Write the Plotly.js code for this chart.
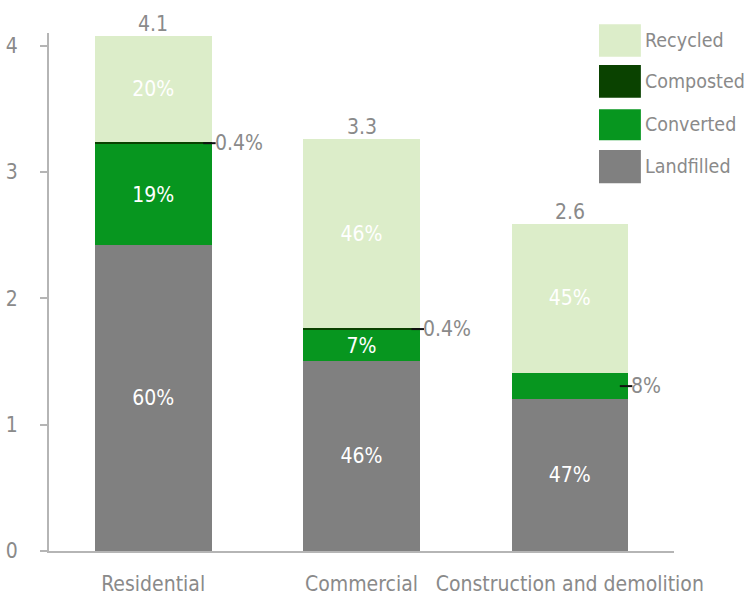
<!DOCTYPE html>
<html>
<head>
<meta charset="utf-8">
<script src="https://cdn.plot.ly/plotly-3.0.1.min.js"></script>
<style>html,body{margin:0;padding:0;background:#fff;}#chart{width:752px;height:596px;}</style>
</head>
<body>
<div id="chart"></div>
<script>
const categories = ["Residential", "Commercial", "Construction and demolition"];
const landfilled = [2.42, 1.50, 1.20];
const converted  = [0.80, 0.25, 0.21];
const composted  = [0.016, 0.013, 0];
const recycled   = [0.84, 1.50, 1.18];
const landfilledLabels = ["60%", "46%", "47%"];
const convertedLabels  = ["19%", "7%", ""];
const recycledLabels   = ["20%", "46%", "45%"];
const outsideLabels = [
  {cat: 0, series: "composted", text: "0.4%"},
  {cat: 1, series: "composted", text: "0.4%"},
  {cat: 2, series: "converted", text: "8%"}
];
const seriesNames  = ["Recycled", "Composted", "Converted", "Landfilled"];
const seriesColors = {Recycled: "#dcedc9", Composted: "#0a4200", Converted: "#07961f", Landfilled: "#808080"};

const FONT = "'DejaVu Sans Condensed', 'Liberation Sans Narrow', sans-serif";
const GREY = "#8a8a8a";
const BARW = 0.56;

function barTrace(name, y, text) {
  return {
    type: "bar", name: name, x: categories, y: y, text: text,
    textposition: "inside", insidetextanchor: "middle",
    textfont: {color: "#ffffff", size: 21, family: FONT},
    marker: {color: seriesColors[name], line: {width: 0}},
    width: BARW, hoverinfo: "skip", showlegend: false
  };
}
const traces = [
  barTrace("Landfilled", landfilled, landfilledLabels),
  barTrace("Converted", converted, convertedLabels),
  barTrace("Composted", composted, ["", "", ""]),
  barTrace("Recycled", recycled, recycledLabels)
];

const totals = categories.map((c, i) => landfilled[i] + converted[i] + composted[i] + recycled[i]);
const annotations = [];
const shapes = [];
totals.forEach((t, i) => {
  annotations.push({x: i, y: t, xref: "x", yref: "y", text: t.toFixed(1), showarrow: false,
    yanchor: "bottom", yshift: -2, font: {size: 21, color: GREY, family: FONT}});
});
outsideLabels.forEach(o => {
  const i = o.cat;
  let yv;
  if (o.series === "composted") yv = landfilled[i] + converted[i] + composted[i] / 2;
  else yv = landfilled[i] + converted[i] / 2;
  annotations.push({x: i + BARW / 2, y: yv, xref: "x", yref: "y", text: o.text, showarrow: false,
    xanchor: "left", xshift: 1, font: {size: 21, color: GREY, family: FONT}});
  shapes.push({type: "line", xref: "x", yref: "y", x0: i + BARW / 2 - 0.04, x1: i + BARW / 2 + 0.02,
    y0: yv, y1: yv, line: {color: "#111", width: 2}});
});

// custom legend (large swatches)
const legTop = [1.017, 0.938, 0.853, 0.774];
const legBot = [0.954, 0.875, 0.793, 0.710];
seriesNames.forEach((n, k) => {
  shapes.push({type: "rect", xref: "paper", yref: "paper", x0: 0.88, x1: 0.947, y0: legBot[k], y1: legTop[k],
    fillcolor: seriesColors[n], line: {width: 0}});
  annotations.push({xref: "paper", yref: "paper", x: 0.95, y: (legTop[k] + legBot[k]) / 2, text: n,
    showarrow: false, xanchor: "left", yanchor: "middle", font: {size: 19.5, color: GREY, family: FONT}});
});

const layout = {
  width: 752, height: 596,
  margin: {l: 49, r: 78, t: 33, b: 45},
  barmode: "stack",
  paper_bgcolor: "#ffffff", plot_bgcolor: "#ffffff",
  font: {family: FONT, color: GREY, size: 20},
  showlegend: false,
  xaxis: {
    type: "category", range: [-0.5, 2.5], showline: true, linecolor: "#b5b5b5", linewidth: 2,
    ticks: "", showgrid: false, zeroline: false, ticklabelstandoff: 13,
    tickfont: {size: 21, color: GREY, family: FONT}
  },
  yaxis: {
    range: [0, 4.1], tickvals: [0, 1, 2, 3, 4], showline: true, linecolor: "#b5b5b5", linewidth: 2,
    ticks: "outside", ticklen: 7, tickwidth: 2, tickcolor: "#b5b5b5", showgrid: false, zeroline: false,
    ticklabelstandoff: 18, tickfont: {size: 21, color: GREY, family: FONT}
  },
  annotations: annotations,
  shapes: shapes
};

Plotly.newPlot("chart", traces, layout, {staticPlot: true, displayModeBar: false});
</script>
</body>
</html>
